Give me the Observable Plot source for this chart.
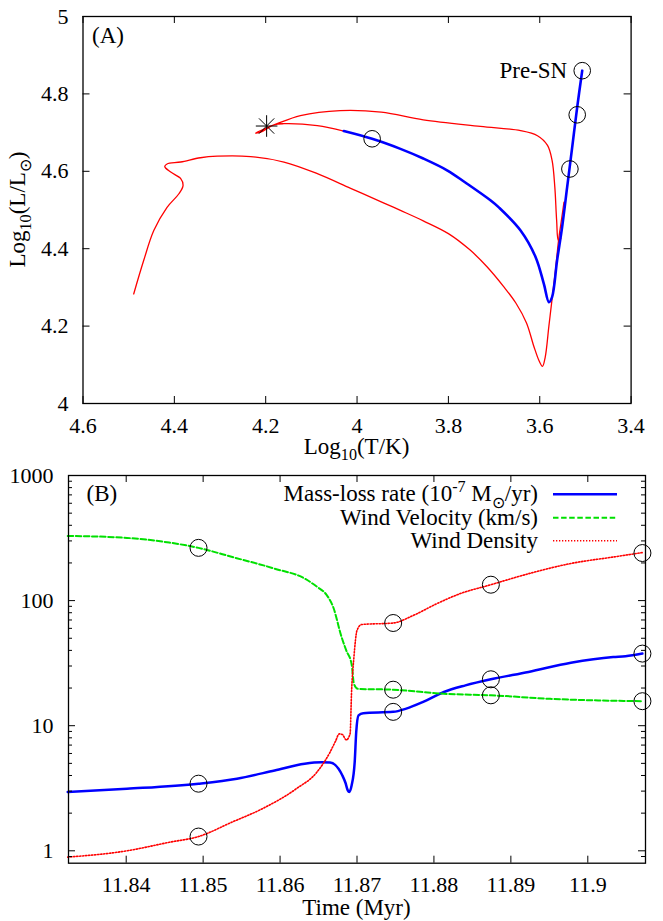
<!DOCTYPE html>
<html><head><meta charset="utf-8">
<script src="https://cdn.jsdelivr.net/npm/d3@7"></script>
<script src="https://cdn.jsdelivr.net/npm/@observablehq/plot@0.6"></script>
<style>
body{margin:0;background:#fff;}
#chart{width:663px;height:921px;}
#chart svg{display:block;font-family:"Liberation Serif","Times New Roman",Times,serif !important;}
#chart svg text{font-family:"Liberation Serif","Times New Roman",Times,serif !important;}
</style></head><body><div id="chart"></div>
<script>
// ---------- Panel A : HR diagram ----------
const trackMainT = [4.489, 4.467, 4.445, 4.416, 4.390, 4.381, 4.386, 4.408, 4.421, 4.416, 4.386, 4.343, 4.306, 4.233, 4.160, 4.087, 4.014, 3.941, 3.905, 3.855, 3.800, 3.753, 3.716, 3.679, 3.652, 3.629, 3.613, 3.601, 3.594, 3.588, 3.580, 3.572, 3.565, 3.559, 3.553, 3.547];
const trackMainL = [4.283, 4.370, 4.447, 4.507, 4.542, 4.563, 4.581, 4.598, 4.612, 4.619, 4.624, 4.635, 4.639, 4.638, 4.624, 4.594, 4.556, 4.518, 4.499, 4.472, 4.439, 4.397, 4.354, 4.302, 4.259, 4.208, 4.148, 4.109, 4.096, 4.120, 4.200, 4.280, 4.350, 4.420, 4.470, 4.520];
const trackLoopT = [3.554, 3.559, 3.563, 3.567, 3.573, 3.583, 3.605, 3.642, 3.730, 3.855, 3.947, 4.037, 4.124, 4.175, 4.198, 4.222, 4.211, 4.182, 4.160, 4.087, 4.029];
const trackLoopL = [4.426, 4.421, 4.473, 4.559, 4.628, 4.667, 4.692, 4.705, 4.716, 4.733, 4.753, 4.757, 4.744, 4.723, 4.712, 4.699, 4.701, 4.720, 4.723, 4.718, 4.704];
const finalT = [4.029, 3.967, 3.905, 3.855, 3.802, 3.763, 3.708, 3.689, 3.642, 3.609, 3.591, 3.580, 3.573, 3.562, 3.551, 3.540, 3.529, 3.518, 3.507];
const finalL = [4.704, 4.684, 4.658, 4.633, 4.602, 4.571, 4.525, 4.506, 4.447, 4.378, 4.309, 4.262, 4.275, 4.370, 4.456, 4.559, 4.662, 4.766, 4.860];
const circleT = [3.967, 3.534, 3.518, 3.507];
const circleL = [4.684, 4.606, 4.746, 4.860];
const starT = [4.198];
const starL = [4.717];
const preSNLabel = ["Pre-SN"];
const ticksTA = [4.6, 4.4, 4.2, 4.0, 3.8, 3.6, 3.4];
const ticksLA = [4.0, 4.2, 4.4, 4.6, 4.8, 5.0];

// ---------- Panel B : wind properties ----------
const mdotTime = [11.8324, 11.8401, 11.8494, 11.8544, 11.8593, 11.8632, 11.8654, 11.8665, 11.8676, 11.8681, 11.8685, 11.8688, 11.8690, 11.8693, 11.8697, 11.8699, 11.8702, 11.8708, 11.8747, 11.8764, 11.8786, 11.8813, 11.8841, 11.8874, 11.8923, 11.8978, 11.9033, 11.9049, 11.9071];
const mdotValue = [2.95, 3.13, 3.44, 3.77, 4.39, 4.97, 5.1, 5.07, 4.53, 4.0, 3.5, 3.04, 2.95, 3.33, 5.12, 8.9, 12.1, 12.6, 12.9, 13.7, 15.5, 18.6, 21.0, 23.5, 26.9, 31.9, 35.4, 35.9, 37.7];
const velTime = [11.8324, 11.8401, 11.8456, 11.8494, 11.8538, 11.8593, 11.8632, 11.8648, 11.8660, 11.8669, 11.8680, 11.8686, 11.8693, 11.8696, 11.8701, 11.8747, 11.8813, 11.8874, 11.8951, 11.9071];
const velValue = [329, 317, 291, 264, 223, 180, 150, 129, 112, 89, 51, 40, 31, 21.6, 19.7, 19.4, 18.0, 17.5, 16.4, 15.7];
const rhoTime = [11.8324, 11.8401, 11.8456, 11.8494, 11.8538, 11.8577, 11.8621, 11.8648, 11.8665, 11.8672, 11.8677, 11.8681, 11.8686, 11.8691, 11.8693, 11.8696, 11.8700, 11.8706, 11.8747, 11.8773, 11.8803, 11.8833, 11.8874, 11.8923, 11.8978, 11.9033, 11.9071];
const rhoValue = [0.89, 1.0, 1.17, 1.30, 1.70, 2.17, 3.13, 4.26, 6.15, 7.5, 8.6, 8.5, 7.7, 8.6, 19.1, 35.3, 57.7, 64.4, 66.2, 76, 94, 113, 134, 164, 198, 223, 242];
const markTime = [11.8494, 11.8747, 11.8874, 11.9071];
const markMdot = [3.44, 12.9, 23.5, 37.7];
const markVel = [264, 19.4, 17.5, 15.7];
const markRho = [1.30, 66.2, 134, 240];
const ticksTimeB = [11.84, 11.85, 11.86, 11.87, 11.88, 11.89, 11.9];
const ticksYB = [1, 10, 100, 1000];
const legendLabels = ["Mass-loss rate", "Wind Velocity (km/s)", "Wind Density"];

const FONT = "Liberation Serif";
const FS = 23;   // labels, legend
const TFS = 22;  // tick labels
const zip = (a, b) => a.map((v, i) => ({x: v, y: b[i]}));

function frameTicks(xt, yt, FW, FH, L, extra = []) {
  return [
    Plot.tickX(xt, {x: d => d, insetTop: FH - L, stroke: "black"}),
    Plot.tickX(xt, {x: d => d, insetBottom: FH - L, stroke: "black"}),
    Plot.tickY(yt, {y: d => d, insetRight: FW - L, stroke: "black"}),
    Plot.tickY(yt, {y: d => d, insetLeft: FW - L, stroke: "black"}),
    ...extra
  ];
}

function rich(textSel, parts, size) {
  let shift = 0;
  for (const p of parts) {
    const target = p.sub ? size * 0.28 : p.sup ? -size * 0.42 : 0;
    textSel.append("tspan")
      .attr("dy", target - shift)
      .attr("font-size", (p.sub || p.sup) ? size * 0.7 : size)
      .text(p.t);
    shift = target;
  }
}

const baseStyle = {fontFamily: FONT, fontSize: TFS + "px", background: "white", color: "black", overflow: "visible"};

// ---------- Chart A ----------
const A = {W: 663, H: 460, ml: 82.5, mr: 32.4, mt: 16, mb: 57};
const AFW = A.W - A.ml - A.mr, AFH = A.H - A.mt - A.mb;
const chartA = Plot.plot({
  width: A.W, height: A.H,
  marginLeft: A.ml, marginRight: A.mr, marginTop: A.mt, marginBottom: A.mb,
  style: baseStyle,
  x: {domain: [4.6, 3.4], label: null},
  y: {domain: [4.0, 5.0], label: null},
  marks: [
    Plot.line(zip(trackMainT, trackMainL), {x: "x", y: "y", stroke: "#ff0000", strokeWidth: 1.3, curve: "catmull-rom"}),
    Plot.line(zip(trackLoopT, trackLoopL), {x: "x", y: "y", stroke: "#ff0000", strokeWidth: 1.3, curve: "catmull-rom"}),
    Plot.line(zip(finalT, finalL), {x: "x", y: "y", stroke: "#0000ff", strokeWidth: 2.6, curve: "catmull-rom"}),
    Plot.dot(zip(circleT, circleL), {x: "x", y: "y", r: 8.3, stroke: "black", strokeWidth: 1}),
    Plot.dot(zip(starT, starL), {x: "x", y: "y", symbol: "plus", r: 7, stroke: "black", strokeWidth: 1}),
    Plot.dot(zip(starT, starL), {x: "x", y: "y", symbol: "times", r: 7, stroke: "black", strokeWidth: 1}),
    Plot.text(preSNLabel, {x: () => circleT[3], y: () => circleL[3], text: d => d, textAnchor: "end", dx: -15, fontSize: FS, fontFamily: FONT}),
    Plot.text(["(A)"], {frameAnchor: "top-left", text: d => d, dx: 9, dy: 19, textAnchor: "start", lineAnchor: "middle", fontSize: FS, fontFamily: FONT}),
    ...frameTicks(ticksTA, ticksLA, AFW, AFH, 7),
    Plot.axisX(ticksTA, {tickSize: 0, tickPadding: 14, tickFormat: d => String(d), label: null, fontSize: TFS, fontFamily: FONT}),
    Plot.axisY(ticksLA, {tickSize: 0, tickPadding: 14.5, tickFormat: d => String(d), label: null, fontSize: TFS, fontFamily: FONT}),
    Plot.frame({stroke: "black", strokeWidth: 1.3})
  ]
});
{
  const s = d3.select(chartA);
  const tx = s.append("text").attr("x", A.ml + AFW / 2).attr("y", 454).attr("text-anchor", "middle")
    .attr("font-family", FONT).attr("font-size", FS).attr("fill", "black");
  rich(tx, [{t: "Log"}, {t: "10", sub: true}, {t: "(T/K)"}], FS);
  const ty = s.append("text").attr("transform", `translate(25,${A.mt + AFH / 2}) rotate(-90)`).attr("text-anchor", "middle")
    .attr("font-family", FONT).attr("font-size", FS).attr("fill", "black");
  rich(ty, [{t: "Log"}, {t: "10", sub: true}, {t: "(L/L"}, {t: "\u2299", sub: true}, {t: ")"}], FS);
}

// ---------- Chart B ----------
const B = {W: 663, H: 461, ml: 68, mr: 18, mt: 15, mb: 58.3};
const BFW = B.W - B.ml - B.mr, BFH = B.H - B.mt - B.mb;
const minorB = [0.9, ...[1, 10, 100].flatMap(k => d3.range(2, 10).map(m => m * k))];
const chartB = Plot.plot({
  width: B.W, height: B.H,
  marginLeft: B.ml, marginRight: B.mr, marginTop: B.mt, marginBottom: B.mb,
  style: baseStyle,
  x: {domain: [11.8325, 11.9075], label: null},
  y: {type: "log", domain: [0.796, 1000], label: null},
  marks: [
    Plot.line(zip(mdotTime, mdotValue), {x: "x", y: "y", stroke: "#0000ff", strokeWidth: 2.5, curve: "monotone-x"}),
    Plot.line(zip(velTime, velValue), {x: "x", y: "y", stroke: "#00e000", strokeWidth: 2, strokeDasharray: "5.5,2.6", curve: "monotone-x"}),
    Plot.line(zip(rhoTime, rhoValue), {x: "x", y: "y", stroke: "#ff0000", strokeWidth: 1.6, strokeDasharray: "1.3,1.7", curve: "monotone-x"}),
    Plot.dot(zip(markTime, markMdot), {x: "x", y: "y", r: 8.5, stroke: "black", strokeWidth: 1}),
    Plot.dot(zip(markTime, markVel), {x: "x", y: "y", r: 8.5, stroke: "black", strokeWidth: 1}),
    Plot.dot(zip(markTime, markRho), {x: "x", y: "y", r: 8.5, stroke: "black", strokeWidth: 1}),
    Plot.text(["(B)"], {frameAnchor: "top-left", text: d => d, dx: 18, dy: 18, textAnchor: "start", lineAnchor: "middle", fontSize: FS, fontFamily: FONT}),
    ...frameTicks(ticksTimeB, ticksYB, BFW, BFH, 7, [
      Plot.tickY(minorB, {y: d => d, insetRight: BFW - 4, stroke: "black"}),
      Plot.tickY(minorB, {y: d => d, insetLeft: BFW - 4, stroke: "black"})
    ]),
    Plot.axisX(ticksTimeB, {tickSize: 0, tickPadding: 13, tickFormat: d => String(d), label: null, fontSize: TFS, fontFamily: FONT}),
    Plot.axisY(ticksYB, {tickSize: 0, tickPadding: 15, tickFormat: d => String(d), label: null, fontSize: TFS, fontFamily: FONT}),
    Plot.frame({stroke: "black", strokeWidth: 1.3})
  ]
});
{
  const s = d3.select(chartB);
  const tx = s.append("text").attr("x", B.ml + BFW / 2).attr("y", 455).attr("text-anchor", "middle")
    .attr("font-family", FONT).attr("font-size", FS).attr("fill", "black");
  rich(tx, [{t: "Time (Myr)"}], FS);
  // legend
  const rows = [34.3, 57.7, 80.7];
  const styles = [
    {stroke: "#0000ff", w: 2.5, dash: null},
    {stroke: "#00e000", w: 2, dash: "5.5,2.6"},
    {stroke: "#ff0000", w: 1.6, dash: "1.3,1.7"}
  ];
  const lg = s.append("g").attr("font-family", FONT).attr("font-size", FS).attr("fill", "black");
  rows.forEach((y, i) => {
    const t = lg.append("text").attr("x", 538).attr("y", y + 7).attr("text-anchor", "end");
    if (i === 0) {
      rich(t, [{t: legendLabels[0] + " (10"}, {t: "-7", sup: true}, {t: " M"}, {t: "\u2299", sub: true}, {t: "/yr)"}], FS);
    } else {
      rich(t, [{t: legendLabels[i]}], FS);
    }
    lg.append("line").attr("x1", 553).attr("x2", 617).attr("y1", y).attr("y2", y)
      .attr("stroke", styles[i].stroke).attr("stroke-width", styles[i].w)
      .attr("stroke-dasharray", styles[i].dash);
  });
}

const root = document.getElementById("chart");
root.append(chartA, chartB);
</script>
</body></html>
